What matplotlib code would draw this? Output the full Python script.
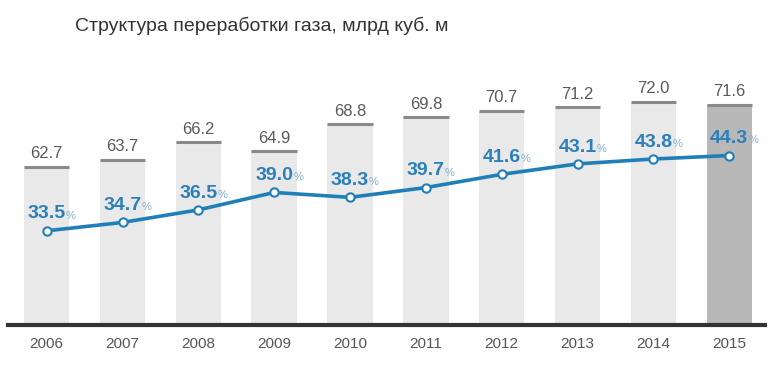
import matplotlib.pyplot as plt
import numpy as np

# Данные
years = ['2006', '2007', '2008', '2009', '2010', '2011', '2012', '2013', '2014', '2015']
volume = [62.7, 63.7, 66.2, 64.9, 68.8, 69.8, 70.7, 71.2, 72.0, 71.6]
share = [33.5, 34.7, 36.5, 39.0, 38.3, 39.7, 41.6, 43.1, 43.8, 44.3]

plt.rcParams['font.family'] = ['Liberation Sans Narrow', 'Liberation Sans', 'DejaVu Sans']

fig = plt.figure(figsize=(7.7, 3.68), dpi=100)
ax = fig.add_axes([0.0104, 0.117, 0.983, 0.72])

x = np.arange(len(years))
colors = ['#e9e9e9'] * (len(years) - 1) + ['#b8b8b8']
bw = 0.6
ax.bar(x, volume, width=bw, color=colors, bottom=0, zorder=1)
ax.hlines(volume, x - bw / 2, x + bw / 2, colors='#8a8a8a', linewidth=2.2, zorder=2)
for xi, v in zip(x, volume):
    ax.annotate(f'{v:.1f}', xy=(xi, v), xytext=(0, 4), textcoords='offset points',
                ha='center', va='bottom', fontsize=12, color='#5a5a5a')

ax.set_ylim(40, 78)
ax.set_xlim(-0.51, 9.47)
for s in ['top', 'right', 'left']:
    ax.spines[s].set_visible(False)
ax.spines['bottom'].set_linewidth(3)
ax.spines['bottom'].set_color('#333333')
ax.set_yticks([])
ax.set_xticks(x)
ax.set_xticklabels(years, fontsize=11, color='#555555')
ax.tick_params(axis='x', length=0, pad=9)

# Линия доли
ax2 = ax.twinx()
ax2.set_ylim(20, 58)
ax2.axis('off')
ax2.plot(x, share, color='#1f7fb6', linewidth=2.6, marker='o', markersize=6,
         markerfacecolor='white', markeredgecolor='#1f7fb6', markeredgewidth=1.5, zorder=5)
for xi, v in zip(x, share):
    t = ax2.annotate(f'{v:.1f}', xy=(xi, v), xytext=(0, 6), textcoords='offset points',
                     ha='center', va='bottom', fontsize=14, fontweight='bold', color='#2b7fba')
    ax2.annotate('%', xy=(1, 0.1), xycoords=t, ha='left', va='bottom',
                 fontsize=8, color='#7fb0d4')

fig.text(0.097, 0.915, 'Структура переработки газа, млрд куб. м', fontsize=14,
         color='#333333', family=['Liberation Sans', 'DejaVu Sans'])

fig.savefig('out.png', dpi=100)
